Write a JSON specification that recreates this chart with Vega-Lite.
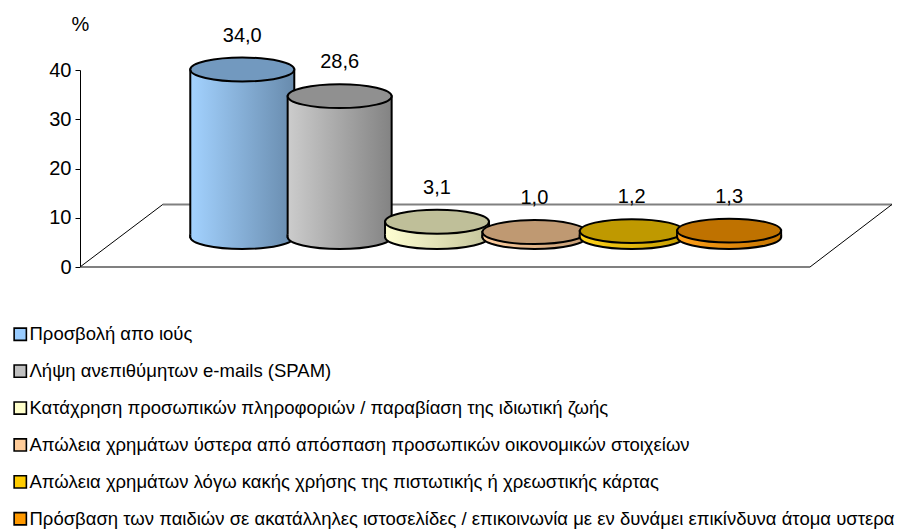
{
  "$schema": "https://vega.github.io/schema/vega-lite/v6.json",
  "width": 812,
  "height": 197,
  "autosize": "none",
  "padding": {"left": 80, "top": 70, "right": 8, "bottom": 264},
  "background": "white",
  "config": {
    "view": {"stroke": null},
    "font": "Liberation Sans",
    "locale": {"number": {"decimal": ",", "thousands": ".", "grouping": [3], "currency": ["", " €"]}},
    "axisY": {
      "values": [0, 10, 20, 30, 40], "grid": false,
      "domainColor": "black", "domainWidth": 1,
      "tickColor": "black", "tickSize": 5, "tickWidth": 1,
      "labelColor": "black", "labelFontSize": 20, "labelFont": "Liberation Sans",
      "labelPadding": 4, "labelFlush": false, "labelOverlap": false,
      "titleAngle": 0, "titleFontSize": 20, "titleFontWeight": "normal",
      "titleFont": "Liberation Sans", "titleColor": "black",
      "titleX": 0, "titleY": -46, "titleAlign": "center", "titleBaseline": "middle"
    }
  },
  "layer": [
    {
      "data": {"values": [
        {"edge": "front", "x": 0, "y": 0, "x2": 0.899, "y2": 0},
        {"edge": "back", "x": 0.102, "y": 12.7, "x2": 1, "y2": 12.7},
        {"edge": "left", "x": 0, "y": 0, "x2": 0.102, "y2": 12.7},
        {"edge": "right", "x": 0.899, "y": 0, "x2": 1, "y2": 12.7}
      ]},
      "encoding": {
        "x": {"field": "x", "type": "quantitative", "scale": {"domain": [0, 1], "nice": false, "zero": false}, "axis": null},
        "x2": {"field": "x2"},
        "y": {"field": "y", "type": "quantitative", "scale": {"domain": [0, 40], "nice": false}, "axis": {"title": "%"}},
        "y2": {"field": "y2"}
      },
      "layer": [
        {"transform": [{"filter": "datum.edge === 'front' || datum.edge === 'back'"}],
         "mark": {"type": "rule", "color": "#808080", "strokeWidth": 2}},
        {"transform": [{"filter": "datum.edge === 'left' || datum.edge === 'right'"}],
         "mark": {"type": "rule", "color": "#000000", "strokeWidth": 1}}
      ]
    },
    {
      "data": {"values": [
        {"cat": "Προσβολή απο ιούς", "value": 34.0},
        {"cat": "Λήψη ανεπιθύμητων e-mails (SPAM)", "value": 28.6},
        {"cat": "Κατάχρηση  προσωπικών πληροφοριών / παραβίαση της ιδιωτική ζωής", "value": 3.1},
        {"cat": "Απώλεια χρημάτων ύστερα από απόσπαση προσωπικών οικονομικών στοιχείων", "value": 1.0},
        {"cat": "Απώλεια χρημάτων λόγω κακής χρήσης της πιστωτικής ή χρεωστικής κάρτας", "value": 1.2},
        {"cat": "Πρόσβαση των παιδιών σε ακατάλληλες ιστοσελίδες / επικοινωνία με εν δυνάμει επικίνδυνα άτομα υστερα", "value": 1.3}
      ]},
      "encoding": {
        "x": {
          "field": "cat", "type": "nominal", "axis": null,
          "scale": {
            "domain": [
              "Προσβολή απο ιούς",
              "Λήψη ανεπιθύμητων e-mails (SPAM)",
              "Κατάχρηση  προσωπικών πληροφοριών / παραβίαση της ιδιωτική ζωής",
              "Απώλεια χρημάτων ύστερα από απόσπαση προσωπικών οικονομικών στοιχείων",
              "Απώλεια χρημάτων λόγω κακής χρήσης της πιστωτικής ή χρεωστικής κάρτας",
              "Πρόσβαση των παιδιών σε ακατάλληλες ιστοσελίδες / επικοινωνία με εν δυνάμει επικίνδυνα άτομα υστερα"
            ],
            "range": [113.6, 697.8],
            "paddingInner": 0, "paddingOuter": 0
          }
        },
        "y": {"field": "value", "type": "quantitative", "scale": {"domain": [0, 40], "nice": false}, "axis": {"title": "%"}}
      },
      "layer": [
        {
          "transform": [{"filter": {"field": "cat", "equal": "Προσβολή απο ιούς"}}],
          "layer": [
            {"mark": {"type": "bar", "size": 104, "stroke": "black", "strokeWidth": 2, "yOffset": -30, "y2Offset": -30,
                      "fill": {"gradient": "linear", "x1": 0, "y1": 0, "x2": 1, "y2": 0, "stops": [{"offset": 0, "color": "#A3D2FF"}, {"offset": 1, "color": "#688BAD"}]}},
             "encoding": {"y2": {"datum": 0}}},
            {"mark": {"type": "point", "shape": "M -1 -0.05 L -1 0 A 1 0.23 0 0 0 1 0 L 1 -0.05", "size": 10816, "filled": true, "opacity": 1, "stroke": "black", "strokeWidth": 2, "yOffset": -30,
                      "fill": {"gradient": "linear", "x1": 0, "y1": 0, "x2": 1, "y2": 0, "stops": [{"offset": 0, "color": "#A3D2FF"}, {"offset": 1, "color": "#688BAD"}]}},
             "encoding": {"y": {"datum": 0}}},
            {"mark": {"type": "point", "shape": "M -1 0 A 1 0.23 0 1 0 1 0 A 1 0.23 0 1 0 -1 0 Z", "size": 10816, "filled": true, "opacity": 1, "stroke": "black", "strokeWidth": 2, "yOffset": -30},
             "encoding": {"fill": {"field": "cat", "type": "nominal", "scale": {"domain": [
                "Προσβολή απο ιούς",
                "Λήψη ανεπιθύμητων e-mails (SPAM)",
                "Κατάχρηση  προσωπικών πληροφοριών / παραβίαση της ιδιωτική ζωής",
                "Απώλεια χρημάτων ύστερα από απόσπαση προσωπικών οικονομικών στοιχείων",
                "Απώλεια χρημάτων λόγω κακής χρήσης της πιστωτικής ή χρεωστικής κάρτας",
                "Πρόσβαση των παιδιών σε ακατάλληλες ιστοσελίδες / επικοινωνία με εν δυνάμει επικίνδυνα άτομα υστερα"
              ], "range": ["#99CCFF", "#C0C0C0", "#FFFFCC", "#FFCC99", "#FFCC00", "#FF9900"]},
              "legend": {
                "title": null, "orient": "none", "legendX": -69, "legendY": 255, "direction": "vertical",
                "symbolType": "square", "symbolSize": 150, "symbolStrokeColor": "black", "symbolStrokeWidth": 1.6,
                "labelFontSize": 18.5, "labelFont": "Liberation Sans", "labelColor": "black", "labelLimit": 1000,
                "labelOffset": 0, "rowPadding": 16.9, "padding": 0
              }}}},
            {"mark": {"type": "point", "shape": "M -1 0 A 1 0.23 0 1 0 1 0 A 1 0.23 0 1 0 -1 0 Z", "size": 10816, "filled": true, "fill": "black", "opacity": 0.25, "strokeWidth": 0, "yOffset": -30}}
          ]
        },
        {
          "transform": [{"filter": {"field": "cat", "equal": "Λήψη ανεπιθύμητων e-mails (SPAM)"}}],
          "layer": [
            {"mark": {"type": "bar", "size": 104, "stroke": "black", "strokeWidth": 2, "yOffset": -30, "y2Offset": -30,
                      "fill": {"gradient": "linear", "x1": 0, "y1": 0, "x2": 1, "y2": 0, "stops": [{"offset": 0, "color": "#CCCCCC"}, {"offset": 1, "color": "#838383"}]}},
             "encoding": {"y2": {"datum": 0}}},
            {"mark": {"type": "point", "shape": "M -1 -0.05 L -1 0 A 1 0.23 0 0 0 1 0 L 1 -0.05", "size": 10816, "filled": true, "opacity": 1, "stroke": "black", "strokeWidth": 2, "yOffset": -30,
                      "fill": {"gradient": "linear", "x1": 0, "y1": 0, "x2": 1, "y2": 0, "stops": [{"offset": 0, "color": "#CCCCCC"}, {"offset": 1, "color": "#838383"}]}},
             "encoding": {"y": {"datum": 0}}},
            {"mark": {"type": "point", "shape": "M -1 0 A 1 0.23 0 1 0 1 0 A 1 0.23 0 1 0 -1 0 Z", "size": 10816, "filled": true, "opacity": 1, "stroke": "black", "strokeWidth": 2, "yOffset": -30},
             "encoding": {"fill": {"field": "cat", "type": "nominal"}}},
            {"mark": {"type": "point", "shape": "M -1 0 A 1 0.23 0 1 0 1 0 A 1 0.23 0 1 0 -1 0 Z", "size": 10816, "filled": true, "fill": "black", "opacity": 0.25, "strokeWidth": 0, "yOffset": -30}}
          ]
        },
        {
          "transform": [{"filter": {"field": "cat", "equal": "Κατάχρηση  προσωπικών πληροφοριών / παραβίαση της ιδιωτική ζωής"}}],
          "layer": [
            {"mark": {"type": "bar", "size": 104, "stroke": "black", "strokeWidth": 2, "yOffset": -30, "y2Offset": -30,
                      "fill": {"gradient": "linear", "x1": 0, "y1": 0, "x2": 1, "y2": 0, "stops": [{"offset": 0, "color": "#FFFFD2"}, {"offset": 1, "color": "#C4C49C"}]}},
             "encoding": {"y2": {"datum": 0}}},
            {"mark": {"type": "point", "shape": "M -1 -0.05 L -1 0 A 1 0.23 0 0 0 1 0 L 1 -0.05", "size": 10816, "filled": true, "opacity": 1, "stroke": "black", "strokeWidth": 2, "yOffset": -30,
                      "fill": {"gradient": "linear", "x1": 0, "y1": 0, "x2": 1, "y2": 0, "stops": [{"offset": 0, "color": "#FFFFD2"}, {"offset": 1, "color": "#C4C49C"}]}},
             "encoding": {"y": {"datum": 0}}},
            {"mark": {"type": "point", "shape": "M -1 0 A 1 0.23 0 1 0 1 0 A 1 0.23 0 1 0 -1 0 Z", "size": 10816, "filled": true, "opacity": 1, "stroke": "black", "strokeWidth": 2, "yOffset": -30},
             "encoding": {"fill": {"field": "cat", "type": "nominal"}}},
            {"mark": {"type": "point", "shape": "M -1 0 A 1 0.23 0 1 0 1 0 A 1 0.23 0 1 0 -1 0 Z", "size": 10816, "filled": true, "fill": "black", "opacity": 0.25, "strokeWidth": 0, "yOffset": -30}}
          ]
        },
        {
          "transform": [{"filter": {"field": "cat", "equal": "Απώλεια χρημάτων ύστερα από απόσπαση προσωπικών οικονομικών στοιχείων"}}],
          "layer": [
            {"mark": {"type": "bar", "size": 104, "stroke": "black", "strokeWidth": 2, "yOffset": -30, "y2Offset": -30,
                      "fill": {"gradient": "linear", "x1": 0, "y1": 0, "x2": 1, "y2": 0, "stops": [{"offset": 0, "color": "#FFCFA0"}, {"offset": 1, "color": "#C49C74"}]}},
             "encoding": {"y2": {"datum": 0}}},
            {"mark": {"type": "point", "shape": "M -1 -0.05 L -1 0 A 1 0.23 0 0 0 1 0 L 1 -0.05", "size": 10816, "filled": true, "opacity": 1, "stroke": "black", "strokeWidth": 2, "yOffset": -30,
                      "fill": {"gradient": "linear", "x1": 0, "y1": 0, "x2": 1, "y2": 0, "stops": [{"offset": 0, "color": "#FFCFA0"}, {"offset": 1, "color": "#C49C74"}]}},
             "encoding": {"y": {"datum": 0}}},
            {"mark": {"type": "point", "shape": "M -1 0 A 1 0.23 0 1 0 1 0 A 1 0.23 0 1 0 -1 0 Z", "size": 10816, "filled": true, "opacity": 1, "stroke": "black", "strokeWidth": 2, "yOffset": -30},
             "encoding": {"fill": {"field": "cat", "type": "nominal"}}},
            {"mark": {"type": "point", "shape": "M -1 0 A 1 0.23 0 1 0 1 0 A 1 0.23 0 1 0 -1 0 Z", "size": 10816, "filled": true, "fill": "black", "opacity": 0.25, "strokeWidth": 0, "yOffset": -30}}
          ]
        },
        {
          "transform": [{"filter": {"field": "cat", "equal": "Απώλεια χρημάτων λόγω κακής χρήσης της πιστωτικής ή χρεωστικής κάρτας"}}],
          "layer": [
            {"mark": {"type": "bar", "size": 104, "stroke": "black", "strokeWidth": 2, "yOffset": -30, "y2Offset": -30,
                      "fill": {"gradient": "linear", "x1": 0, "y1": 0, "x2": 1, "y2": 0, "stops": [{"offset": 0, "color": "#FFD21A"}, {"offset": 1, "color": "#C49C00"}]}},
             "encoding": {"y2": {"datum": 0}}},
            {"mark": {"type": "point", "shape": "M -1 -0.05 L -1 0 A 1 0.23 0 0 0 1 0 L 1 -0.05", "size": 10816, "filled": true, "opacity": 1, "stroke": "black", "strokeWidth": 2, "yOffset": -30,
                      "fill": {"gradient": "linear", "x1": 0, "y1": 0, "x2": 1, "y2": 0, "stops": [{"offset": 0, "color": "#FFD21A"}, {"offset": 1, "color": "#C49C00"}]}},
             "encoding": {"y": {"datum": 0}}},
            {"mark": {"type": "point", "shape": "M -1 0 A 1 0.23 0 1 0 1 0 A 1 0.23 0 1 0 -1 0 Z", "size": 10816, "filled": true, "opacity": 1, "stroke": "black", "strokeWidth": 2, "yOffset": -30},
             "encoding": {"fill": {"field": "cat", "type": "nominal"}}},
            {"mark": {"type": "point", "shape": "M -1 0 A 1 0.23 0 1 0 1 0 A 1 0.23 0 1 0 -1 0 Z", "size": 10816, "filled": true, "fill": "black", "opacity": 0.25, "strokeWidth": 0, "yOffset": -30}}
          ]
        },
        {
          "transform": [{"filter": {"field": "cat", "equal": "Πρόσβαση των παιδιών σε ακατάλληλες ιστοσελίδες / επικοινωνία με εν δυνάμει επικίνδυνα άτομα υστερα"}}],
          "layer": [
            {"mark": {"type": "bar", "size": 104, "stroke": "black", "strokeWidth": 2, "yOffset": -30, "y2Offset": -30,
                      "fill": {"gradient": "linear", "x1": 0, "y1": 0, "x2": 1, "y2": 0, "stops": [{"offset": 0, "color": "#FFA01A"}, {"offset": 1, "color": "#C47400"}]}},
             "encoding": {"y2": {"datum": 0}}},
            {"mark": {"type": "point", "shape": "M -1 -0.05 L -1 0 A 1 0.23 0 0 0 1 0 L 1 -0.05", "size": 10816, "filled": true, "opacity": 1, "stroke": "black", "strokeWidth": 2, "yOffset": -30,
                      "fill": {"gradient": "linear", "x1": 0, "y1": 0, "x2": 1, "y2": 0, "stops": [{"offset": 0, "color": "#FFA01A"}, {"offset": 1, "color": "#C47400"}]}},
             "encoding": {"y": {"datum": 0}}},
            {"mark": {"type": "point", "shape": "M -1 0 A 1 0.23 0 1 0 1 0 A 1 0.23 0 1 0 -1 0 Z", "size": 10816, "filled": true, "opacity": 1, "stroke": "black", "strokeWidth": 2, "yOffset": -30},
             "encoding": {"fill": {"field": "cat", "type": "nominal"}}},
            {"mark": {"type": "point", "shape": "M -1 0 A 1 0.23 0 1 0 1 0 A 1 0.23 0 1 0 -1 0 Z", "size": 10816, "filled": true, "fill": "black", "opacity": 0.25, "strokeWidth": 0, "yOffset": -30}}
          ]
        },
        {
          "mark": {"type": "text", "fontSize": 20, "font": "Liberation Sans", "color": "black", "baseline": "alphabetic", "yOffset": -58},
          "encoding": {"text": {"field": "value", "type": "quantitative", "format": ".1f"}}
        }
      ]
    }
  ],
  "resolve": {"scale": {"x": "independent"}}
}
